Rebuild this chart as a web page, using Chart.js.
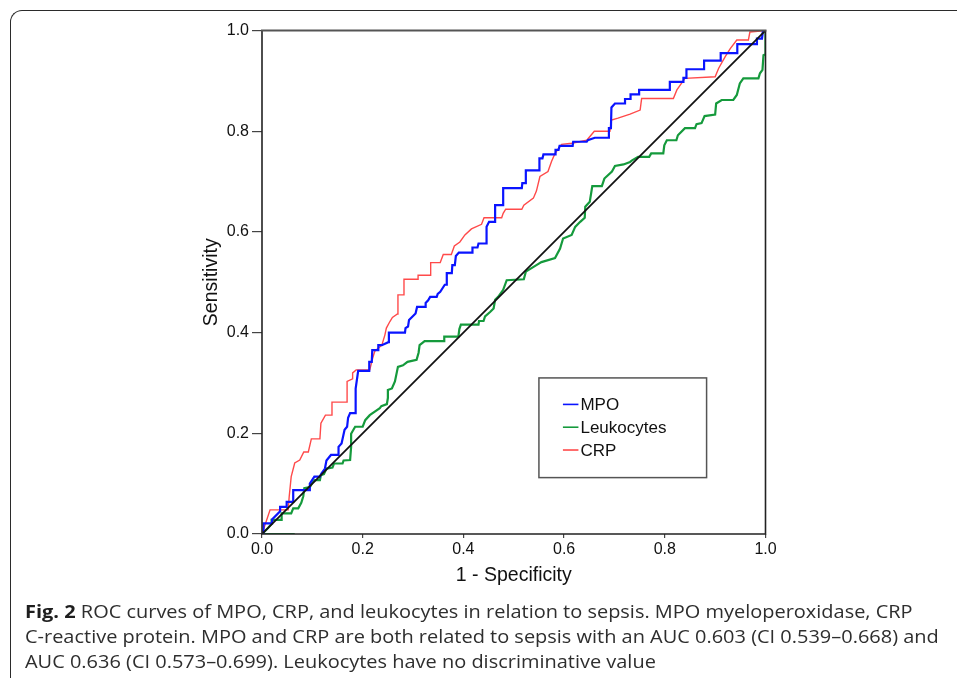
<!DOCTYPE html>
<html><head><meta charset="utf-8">
<script src="https://cdn.jsdelivr.net/npm/chart.js@4/dist/chart.umd.min.js"></script>
<style>
html,body{margin:0;padding:0;background:#fff;width:957px;height:678px;overflow:hidden;position:relative}
#frame{position:absolute;left:10px;top:10px;width:1200px;height:900px;border-left:1.5px solid #2b2b2b;border-top:1.5px solid #2b2b2b;border-top-left-radius:12px;box-sizing:border-box}
#wrap{position:absolute;left:0;top:0;width:957px;height:678px}
#cap{position:absolute;left:25px;top:598px;font-family:"Open Sans","Liberation Sans",sans-serif;font-size:18.5px;line-height:25px;color:#2e2e2e;white-space:nowrap;transform-origin:0 0}
#cap b{color:#1e1e1e}
</style></head><body>
<div id="frame"></div>
<div id="wrap"><canvas id="c" width="957" height="678"></canvas></div>
<div id="cap"><span id="l1"><b>Fig. 2</b> ROC curves of MPO, CRP, and leukocytes in relation to sepsis. MPO myeloperoxidase, CRP</span><br><span>C-reactive protein. MPO and CRP are both related to sepsis with an AUC 0.603 (CI 0.539–0.668) and</span><br><span>AUC 0.636 (CI 0.573–0.699). Leukocytes have no discriminative value</span></div>
<script>
// ---- data ----
const seriesNames = ['MPO', 'Leukocytes', 'CRP'];
const xTickValues = [0, 0.2, 0.4, 0.6, 0.8, 1.0];
const xTickLabels = ['0.0', '0.2', '0.4', '0.6', '0.8', '1.0'];
const yTickValues = [0, 0.2, 0.4, 0.6, 0.8, 1.0];
const yTickLabels = ['0.0', '0.2', '0.4', '0.6', '0.8', '1.0'];

const mpoPoints = [[0,0],[0.003,0],[0.003,0.021],[0.02,0.021],[0.02,0.029],[0.036,0.045],[0.036,0.054],[0.049,0.054],[0.049,0.064],[0.062,0.064],[0.062,0.087],[0.095,0.087],[0.095,0.1],[0.104,0.114],[0.115,0.114],[0.118,0.12],[0.125,0.13],[0.128,0.146],[0.137,0.157],[0.152,0.157],[0.152,0.173],[0.158,0.18],[0.164,0.207],[0.169,0.213],[0.171,0.231],[0.175,0.24],[0.185,0.24],[0.186,0.289],[0.191,0.324],[0.213,0.324],[0.213,0.342],[0.218,0.342],[0.219,0.365],[0.231,0.365],[0.231,0.375],[0.238,0.375],[0.251,0.381],[0.252,0.4],[0.284,0.4],[0.285,0.409],[0.29,0.412],[0.292,0.425],[0.3,0.433],[0.305,0.438],[0.308,0.451],[0.324,0.451],[0.325,0.459],[0.33,0.464],[0.334,0.471],[0.347,0.471],[0.349,0.477],[0.354,0.481],[0.363,0.495],[0.367,0.495],[0.367,0.518],[0.377,0.518],[0.378,0.534],[0.383,0.534],[0.385,0.552],[0.391,0.559],[0.418,0.559],[0.418,0.569],[0.428,0.569],[0.43,0.577],[0.446,0.577],[0.446,0.61],[0.451,0.62],[0.463,0.62],[0.463,0.653],[0.479,0.653],[0.479,0.687],[0.516,0.687],[0.517,0.697],[0.524,0.697],[0.524,0.722],[0.551,0.722],[0.551,0.746],[0.557,0.746],[0.559,0.754],[0.582,0.754],[0.583,0.763],[0.589,0.763],[0.591,0.771],[0.617,0.771],[0.618,0.779],[0.645,0.779],[0.647,0.782],[0.661,0.787],[0.689,0.787],[0.689,0.806],[0.693,0.806],[0.694,0.847],[0.701,0.855],[0.721,0.855],[0.721,0.864],[0.732,0.864],[0.732,0.873],[0.749,0.873],[0.749,0.882],[0.81,0.882],[0.81,0.898],[0.837,0.898],[0.837,0.906],[0.843,0.906],[0.843,0.923],[0.878,0.923],[0.878,0.94],[0.911,0.94],[0.911,0.955],[0.944,0.955],[0.944,0.973],[0.983,0.973],[0.983,0.984],[0.993,0.984],[0.995,1.0],[1,1]];

const leukoPoints = [[0.065,0],[0,0],[0.012,0.012],[0.019,0.02],[0.019,0.028],[0.039,0.028],[0.039,0.041],[0.058,0.041],[0.062,0.051],[0.072,0.051],[0.078,0.062],[0.082,0.075],[0.084,0.091],[0.095,0.093],[0.1,0.102],[0.105,0.107],[0.115,0.107],[0.117,0.117],[0.123,0.119],[0.128,0.13],[0.14,0.132],[0.143,0.14],[0.16,0.14],[0.162,0.146],[0.175,0.147],[0.177,0.173],[0.177,0.199],[0.185,0.213],[0.2,0.213],[0.205,0.226],[0.214,0.236],[0.224,0.243],[0.234,0.25],[0.237,0.254],[0.248,0.258],[0.25,0.27],[0.25,0.286],[0.258,0.289],[0.264,0.303],[0.27,0.332],[0.28,0.335],[0.289,0.342],[0.307,0.346],[0.311,0.36],[0.313,0.375],[0.323,0.383],[0.362,0.383],[0.362,0.392],[0.39,0.392],[0.392,0.407],[0.395,0.416],[0.43,0.416],[0.431,0.423],[0.44,0.423],[0.443,0.432],[0.453,0.441],[0.46,0.448],[0.463,0.465],[0.469,0.471],[0.479,0.485],[0.486,0.504],[0.52,0.506],[0.524,0.521],[0.545,0.534],[0.555,0.54],[0.582,0.548],[0.592,0.567],[0.598,0.587],[0.615,0.594],[0.622,0.61],[0.632,0.62],[0.641,0.628],[0.642,0.65],[0.651,0.66],[0.656,0.691],[0.675,0.691],[0.68,0.706],[0.695,0.72],[0.701,0.731],[0.718,0.734],[0.731,0.739],[0.735,0.742],[0.747,0.749],[0.769,0.749],[0.773,0.756],[0.797,0.756],[0.799,0.772],[0.804,0.782],[0.823,0.782],[0.826,0.792],[0.84,0.806],[0.86,0.806],[0.863,0.814],[0.873,0.816],[0.879,0.83],[0.9,0.833],[0.902,0.855],[0.913,0.862],[0.936,0.862],[0.943,0.872],[0.949,0.895],[0.956,0.905],[0.986,0.905],[0.989,0.915],[0.994,0.922],[0.996,0.951],[1,0.953],[1,1]];

const crpPoints = [[0,0],[0.016,0.048],[0.052,0.048],[0.054,0.074],[0.058,0.114],[0.065,0.141],[0.075,0.147],[0.083,0.163],[0.092,0.163],[0.098,0.189],[0.115,0.189],[0.117,0.22],[0.126,0.236],[0.139,0.236],[0.139,0.262],[0.169,0.262],[0.169,0.303],[0.18,0.308],[0.18,0.32],[0.187,0.326],[0.214,0.326],[0.22,0.35],[0.224,0.363],[0.238,0.375],[0.244,0.395],[0.247,0.409],[0.254,0.422],[0.259,0.43],[0.269,0.437],[0.27,0.475],[0.281,0.475],[0.282,0.506],[0.31,0.506],[0.31,0.514],[0.335,0.514],[0.335,0.539],[0.354,0.539],[0.36,0.555],[0.376,0.555],[0.382,0.572],[0.393,0.58],[0.403,0.594],[0.416,0.606],[0.436,0.615],[0.441,0.628],[0.476,0.628],[0.479,0.637],[0.484,0.645],[0.516,0.645],[0.52,0.653],[0.539,0.667],[0.545,0.681],[0.552,0.71],[0.568,0.72],[0.575,0.74],[0.582,0.756],[0.595,0.774],[0.615,0.776],[0.645,0.782],[0.66,0.8],[0.691,0.8],[0.694,0.822],[0.707,0.826],[0.731,0.834],[0.751,0.842],[0.754,0.865],[0.817,0.865],[0.824,0.882],[0.84,0.905],[0.9,0.908],[0.907,0.925],[0.92,0.948],[0.93,0.964],[0.943,0.981],[0.966,0.981],[0.969,0.997],[1,1]];

const refPoints = [[0,0],[1,1]];

const toXY = arr => arr.map(p => ({x: p[0], y: p[1]}));

const frameLegend = {
  id: 'frameLegend',
  afterDatasetsDraw(chart) {
    const {ctx, chartArea: a, scales: {x, y}} = chart;
    ctx.save();
    // plot frame
    ctx.lineWidth = 1.6;
    ctx.strokeStyle = '#222';
    ctx.beginPath();
    ctx.moveTo(a.left, a.top); ctx.lineTo(a.left, a.bottom); ctx.lineTo(a.right, a.bottom); ctx.lineTo(a.right, a.top);
    ctx.stroke();
    ctx.strokeStyle = '#555'; ctx.lineWidth = 2;
    ctx.beginPath(); ctx.moveTo(a.left - 1, a.top); ctx.lineTo(a.right + 1, a.top); ctx.stroke();
    // legend box
    const bx0 = x.getPixelForValue(0.55), bx1 = x.getPixelForValue(0.883);
    const by0 = y.getPixelForValue(0.31), by1 = y.getPixelForValue(0.112);
    ctx.strokeStyle = '#555'; ctx.lineWidth = 1.5;
    ctx.strokeRect(bx0, by0, bx1 - bx0, by1 - by0);
    const order = [0, 1, 2];
    ctx.font = '17px "Liberation Sans", Arial, sans-serif';
    ctx.textBaseline = 'middle';
    ctx.textAlign = 'left';
    order.forEach((di, i) => {
      const ds = chart.data.datasets[di];
      const ly = by0 + 26.5 + i * 22.8;
      ctx.strokeStyle = ds.borderColor; ctx.lineWidth = 1.6;
      ctx.beginPath(); ctx.moveTo(bx0 + 24, ly); ctx.lineTo(bx0 + 39.5, ly); ctx.stroke();
      ctx.fillStyle = '#111';
      ctx.fillText(ds.label, bx0 + 41.5, ly + 1);
    });
    ctx.restore();
  }
};

const tickFont = {family: '"Liberation Sans", Arial, sans-serif', size: 16};
const titleFont = {family: '"Liberation Sans", Arial, sans-serif', size: 19.5};

new Chart(document.getElementById('c'), {
  type: 'line',
  data: {
    datasets: [
      {label: seriesNames[0], data: toXY(mpoPoints), borderColor: '#0a14ff', borderWidth: 2.2, order: 2},
      {label: seriesNames[1], data: toXY(leukoPoints), borderColor: '#159a3c', borderWidth: 2.2, order: 4},
      {label: seriesNames[2], data: toXY(crpPoints), borderColor: '#ff4a4a', borderWidth: 1.4, order: 3},
      {label: 'Reference', data: toXY(refPoints), borderColor: '#111', borderWidth: 1.8, order: 1}
    ]
  },
  options: {
    responsive: false,
    animation: false,
    elements: {point: {radius: 0, hoverRadius: 0}, line: {tension: 0, fill: false}},
    layout: {padding: {left: 196.3, top: 30.5, right: 191.5, bottom: 86.3}},
    plugins: {legend: {display: false}, tooltip: {enabled: false}},
    scales: {
      x: {
        type: 'linear', min: 0, max: 1,
        afterBuildTicks: s => { s.ticks = xTickValues.map(v => ({value: v})); },
        afterFit: s => { s.height = 57.7; },
        ticks: {font: tickFont, color: '#111', padding: 2, maxRotation: 0,
                callback: (v, i) => xTickLabels[i]},
        grid: {drawOnChartArea: false, drawTicks: true, tickLength: 4, color: '#444', lineWidth: 1.2},
        border: {display: false},
        title: {display: true, text: '1 - Specificity', font: titleFont, color: '#111', padding: {top: 4, bottom: 4}}
      },
      y: {
        type: 'linear', min: 0, max: 1,
        afterBuildTicks: s => { s.ticks = yTickValues.map(v => ({value: v})); },
        afterFit: s => { s.width = 65.7; },
        ticks: {font: tickFont, color: '#111', padding: 3,
                callback: (v, i) => yTickLabels[i]},
        grid: {drawOnChartArea: false, drawTicks: true, tickLength: 10, color: '#444', lineWidth: 1.2},
        border: {display: false},
        title: {display: true, text: 'Sensitivity', font: titleFont, color: '#111', padding: {top: 4, bottom: 4}}
      }
    }
  },
  plugins: [frameLegend]
});

// fit caption line 1 to the reference width (25px -> 913px); offsetWidth ignores transforms
function fitCaption() {
  const cap = document.getElementById('cap');
  const w = document.getElementById('l1').offsetWidth;
  if (w > 0) cap.style.transform = 'scaleX(' + (888 / w) + ')';
}
fitCaption();
if (document.fonts && document.fonts.ready) document.fonts.ready.then(fitCaption);
</script>
</body></html>
